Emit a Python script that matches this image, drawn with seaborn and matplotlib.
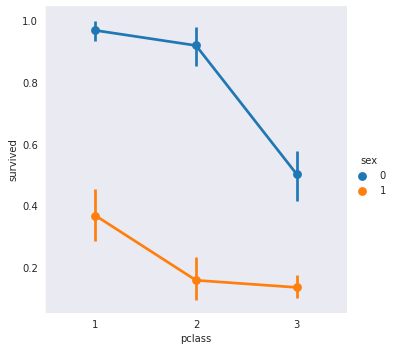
import matplotlib
matplotlib.use("Agg")
import matplotlib.pyplot as plt
import pandas as pd
import seaborn as sns

pclass = [1, 2, 3]
surv_0 = [0.970, 0.921, 0.504]
surv_1 = [0.370, 0.160, 0.137]
lo_0 = [0.935, 0.855, 0.418]
hi_0 = [1.000, 0.980, 0.578]
lo_1 = [0.287, 0.095, 0.103]
hi_1 = [0.455, 0.236, 0.177]

df = pd.DataFrame({
    "pclass": pclass * 2,
    "survived": surv_0 + surv_1,
    "sex": [0] * 3 + [1] * 3,
})

sns.set_style("dark")
g = sns.catplot(data=df, x="pclass", y="survived", hue="sex", kind="point",
                errorbar=None, height=5, aspect=1)
ax = g.ax
colors = sns.color_palette()
# draw the confidence intervals on the categorical positions
ax.vlines(range(3), lo_0, hi_0, color=colors[0], lw=2.7, zorder=1)
ax.vlines(range(3), lo_1, hi_1, color=colors[1], lw=2.7, zorder=1)
ax.set_ylim(0.054, 1.049)
ax.set_xlim(-0.5, 2.5)

# legend shows only the dots, like older seaborn
for h in g.legend.legend_handles:
    h.set_linestyle("")

g.figure.set_size_inches(395 / 72, 352 / 72)
g.figure.subplots_adjust(left=45 / 395, right=347 / 395, top=1 - 6 / 352, bottom=1 - 313 / 352)
g.figure.savefig("out.png", dpi=72)
